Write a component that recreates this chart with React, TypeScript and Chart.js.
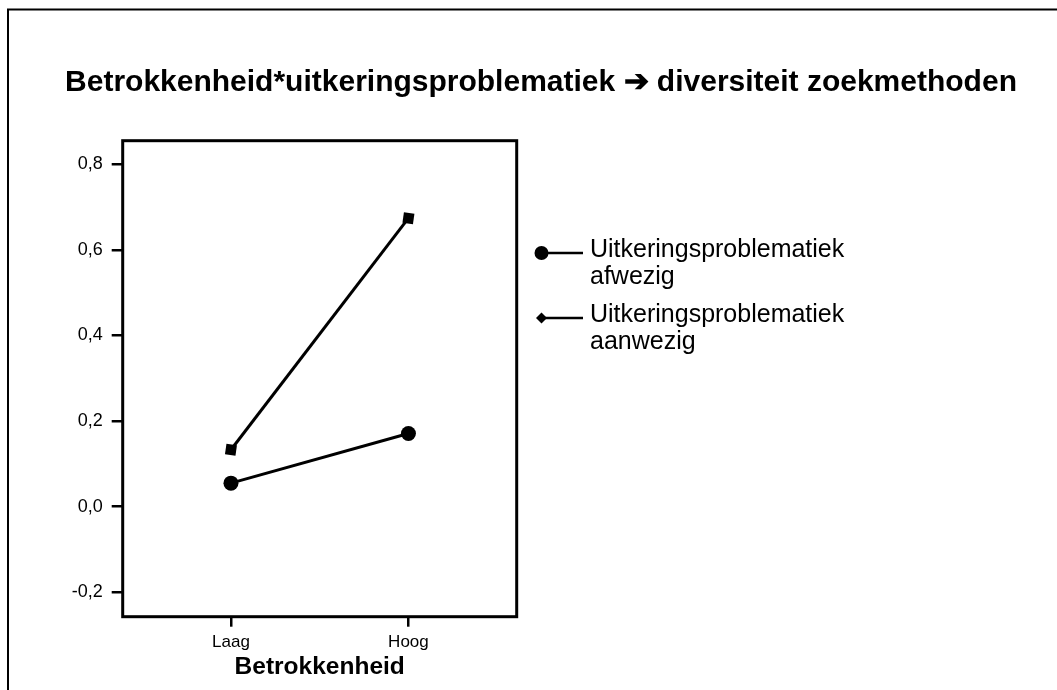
import React, { useEffect, useRef } from "react";
import { Chart, registerables } from "chart.js";

Chart.register(...registerables);

const categories = ["Laag", "Hoog"];
const categoryPositions = [0, 1];
const seriesLabels = [
  ["Uitkeringsproblematiek", "afwezig"],
  ["Uitkeringsproblematiek", "aanwezig"],
];
const afwezigValues = [0.055, 0.171];
const aanwezigValues = [0.133, 0.674];
const yTickValues = [-0.2, 0, 0.2, 0.4, 0.6, 0.8];
const chartTitle = "Betrokkenheid*uitkeringsproblematiek \u2794 diversiteit zoekmethoden";
const xAxisTitle = "Betrokkenheid";

const FONT = "'Liberation Sans', Arial, sans-serif";

const framePlugin = {
  id: "frameAndBox",
  afterDraw(chart: any) {
    const ctx = chart.ctx;
    const a = chart.chartArea;
    ctx.save();
    // outer frame (top and left)
    ctx.strokeStyle = "#000";
    ctx.lineWidth = 2;
    ctx.beginPath();
    ctx.moveTo(8, 690);
    ctx.lineTo(8, 9.5);
    ctx.lineTo(1057, 9.5);
    ctx.stroke();
    // title
    ctx.fillStyle = "#000";
    ctx.font = `bold 30px ${FONT}`;
    ctx.textAlign = "center";
    ctx.textBaseline = "alphabetic";
    ctx.fillText(chartTitle, 541, 91);
    // plot box
    ctx.lineWidth = 3;
    ctx.strokeRect(a.left, a.top, a.right - a.left, a.bottom - a.top);
    // legend
    const lx = 541.5;
    const rows = [253, 318];
    chart.data.datasets.forEach((ds: any, i: number) => {
      const y = rows[i];
      ctx.lineWidth = 2.5;
      ctx.strokeStyle = "#000";
      ctx.beginPath();
      ctx.moveTo(lx, y);
      ctx.lineTo(583, y);
      ctx.stroke();
      ctx.fillStyle = "#000";
      ctx.beginPath();
      if (i === 0) {
        ctx.arc(lx, y, 7, 0, Math.PI * 2);
      } else {
        ctx.moveTo(lx, y - 5.5);
        ctx.lineTo(lx + 5.5, y);
        ctx.lineTo(lx, y + 5.5);
        ctx.lineTo(lx - 5.5, y);
        ctx.closePath();
      }
      ctx.fill();
      ctx.font = `25px ${FONT}`;
      ctx.textBaseline = "alphabetic";
      ctx.textAlign = "left";
      const lines: string[] = ds.labelLines;
      lines.forEach((t, j) => {
        ctx.fillText(t, 590, y + 4 + j * 27);
      });
    });
    ctx.restore();
  },
};

export default function App() {
  const ref = useRef<HTMLCanvasElement | null>(null);

  useEffect(() => {
    if (!ref.current) return;
    const chart = new Chart(ref.current, {
      type: "line",
      data: {
        datasets: [
          {
            label: seriesLabels[0].join(" "),
            labelLines: seriesLabels[0],
            data: categoryPositions.map((x, i) => ({ x, y: afwezigValues[i] })),
            borderColor: "#000",
            backgroundColor: "#000",
            borderWidth: 3,
            pointStyle: "circle",
            pointRadius: 7.5,
            pointBorderWidth: 0,
            tension: 0,
          } as any,
          {
            label: seriesLabels[1].join(" "),
            labelLines: seriesLabels[1],
            data: categoryPositions.map((x, i) => ({ x, y: aanwezigValues[i] })),
            borderColor: "#000",
            backgroundColor: "#000",
            borderWidth: 3,
            pointStyle: "rect",
            pointRadius: 7.5,
            pointRotation: 8,
            pointBorderWidth: 0,
            tension: 0,
          } as any,
        ],
      },
      options: {
        animation: false,
        responsive: false,
        devicePixelRatio: 1,
        layout: { padding: { left: 0, right: 540.3, top: 140.7, bottom: 0 } },
        plugins: {
          legend: { display: false },
          tooltip: { enabled: false },
          title: { display: false },
        },
        scales: {
          x: {
            type: "linear",
            min: -0.61,
            max: 1.61,
            afterBuildTicks: (s: any) => {
              s.ticks = categoryPositions.map((v) => ({ value: v }));
            },
            afterFit: (s: any) => {
              s.height = 73.3;
            },
            ticks: {
              callback: (v: any) => categories[categoryPositions.indexOf(Number(v))] ?? "",
              color: "#000",
              font: { family: FONT, size: 17 },
              padding: 5,
              maxRotation: 0,
            },
            grid: {
              drawOnChartArea: false,
              drawTicks: true,
              tickLength: 10,
              color: "#000",
              lineWidth: 2.5,
            },
            border: { display: false },
            title: {
              display: true,
              text: xAxisTitle,
              color: "#000",
              font: { family: FONT, size: 24.5, weight: "bold" },
              padding: { top: 0, bottom: 8 },
            },
          },
          y: {
            type: "linear",
            min: -0.257,
            max: 0.855,
            afterBuildTicks: (s: any) => {
              s.ticks = yTickValues.map((v) => ({ value: v }));
            },
            afterFit: (s: any) => {
              s.width = 122.7;
            },
            ticks: {
              callback: (v: any) => Number(v).toFixed(1).replace(".", ","),
              color: "#000",
              font: { family: FONT, size: 18 },
              padding: 9,
            },
            grid: {
              drawOnChartArea: false,
              drawTicks: true,
              tickLength: 11,
              color: "#000",
              lineWidth: 2.5,
            },
            border: { display: false },
          },
        },
      } as any,
      plugins: [framePlugin],
    });
    return () => chart.destroy();
  }, []);

  return (
    <canvas
      ref={ref}
      width={1057}
      height={690}
      style={{ position: "fixed", left: 0, top: 0, width: 1057, height: 690, background: "#fff" }}
    />
  );
}
